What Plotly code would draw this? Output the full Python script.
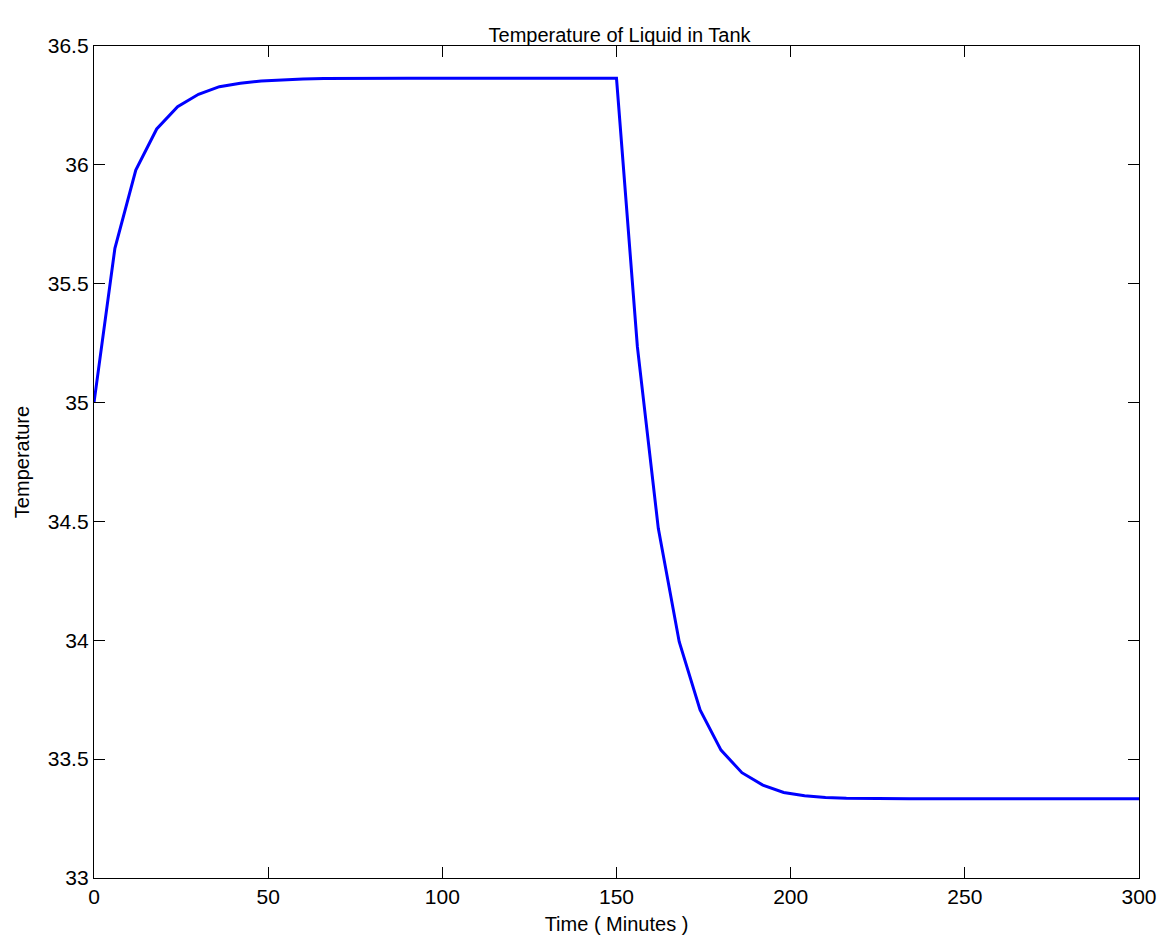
import plotly.graph_objects as go

# Time points (minutes), sampled every 6 minutes
time_min = [0, 6, 12, 18, 24, 30, 36, 42, 48, 54, 60, 66, 72, 78, 84, 90, 96, 102,
            108, 114, 120, 126, 132, 138, 144, 150,
            156, 162, 168, 174, 180, 186, 192, 198, 204, 210, 216, 222, 228, 234,
            240, 246, 252, 258, 264, 270, 276, 282, 288, 294, 300]

# Temperature during heating phase (t = 0..150)
temp_heating = [35.000, 35.649, 35.978, 36.151, 36.245, 36.297, 36.329, 36.343,
                36.353, 36.358, 36.361, 36.363, 36.364, 36.364, 36.364, 36.364,
                36.364, 36.364, 36.364, 36.364, 36.364, 36.364, 36.364, 36.364,
                36.364, 36.364]

# Temperature during cooling phase (t = 156..300)
temp_cooling = [35.234, 34.471, 33.994, 33.707, 33.538, 33.443, 33.391, 33.360,
                33.346, 33.339, 33.336, 33.334, 33.334, 33.333, 33.333, 33.333,
                33.333, 33.333, 33.333, 33.333, 33.333, 33.333, 33.333, 33.333,
                33.333]

temperature = temp_heating + temp_cooling

x_ticks = [0, 50, 100, 150, 200, 250, 300]
y_ticks = [33, 33.5, 34, 34.5, 35, 35.5, 36, 36.5]
y_tick_text = ["33", "33.5", "34", "34.5", "35", "35.5", "36", "36.5"]

FONT = "Liberation Sans, Arial, Helvetica, sans-serif"

fig = go.Figure()
fig.add_trace(go.Scatter(x=time_min, y=temperature, mode="lines",
                         line=dict(color="#0000FF", width=3), showlegend=False))

axis_common = dict(showgrid=False, zeroline=False, showline=True, linecolor="black",
                   linewidth=1.3, mirror="ticks", ticks="inside", ticklen=11,
                   tickwidth=1, tickcolor="black",
                   tickfont=dict(family=FONT, size=21, color="black"))

fig.update_xaxes(range=[0, 300], tickvals=x_ticks,
                 title=dict(text="Time ( Minutes )", font=dict(family=FONT, size=20, color="black"),
                            standoff=9),
                 **axis_common)
fig.update_yaxes(range=[33, 36.5], tickvals=y_ticks, ticktext=y_tick_text,
                 title=dict(text="Temperature", font=dict(family=FONT, size=20, color="black"),
                            standoff=12),
                 **axis_common)

fig.update_layout(
    width=1169, height=944,
    margin=dict(l=94, r=24, t=46, b=66),
    paper_bgcolor="white", plot_bgcolor="white",
    title=dict(text="Temperature of Liquid in Tank", x=0.53, xanchor="center",
               y=1 - 35 / 944, yanchor="middle", yref="container",
               font=dict(family=FONT, size=20, color="black")),
)

fig.write_html("out.html")
